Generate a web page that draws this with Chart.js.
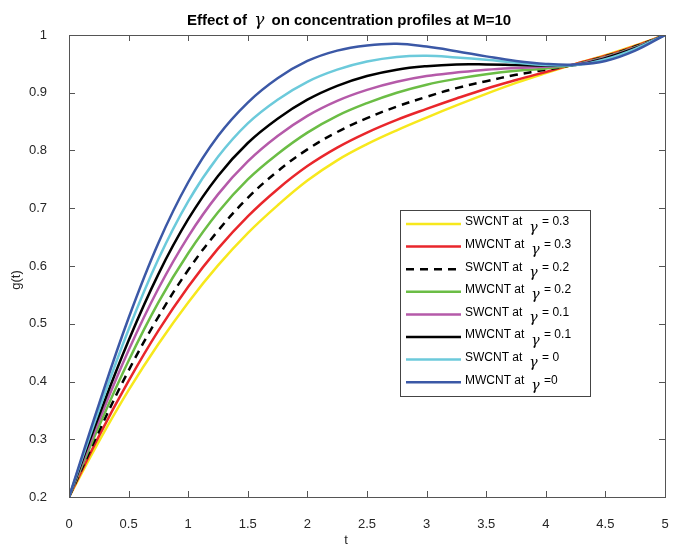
<!DOCTYPE html>
<html>
<head>
<meta charset="utf-8">
<script src="https://cdn.jsdelivr.net/npm/chart.js@4.4.1/dist/chart.umd.min.js"></script>
<style>
  html, body { margin: 0; padding: 0; background: #fff; }
  #wrap { width: 681px; height: 546px; }
</style>
</head>
<body>
<div id="wrap"><canvas id="chart" width="681" height="546"></canvas></div>
<script>
// valeurs
const tValues = [0, 0.25, 0.5, 0.75, 1, 1.25, 1.5, 1.75, 2, 2.25, 2.5, 2.75, 3, 3.25, 3.5, 3.75, 4, 4.25, 4.5, 4.75, 5];

const swcnt03 = [0.2, 0.296, 0.385, 0.465, 0.537, 0.601, 0.657, 0.705, 0.748, 0.783, 0.811, 0.835, 0.857, 0.878, 0.898, 0.917, 0.934, 0.950, 0.965, 0.982, 1];
const mwcnt03 = [0.2, 0.305, 0.401, 0.488, 0.564, 0.630, 0.686, 0.733, 0.773, 0.805, 0.831, 0.853, 0.872, 0.890, 0.907, 0.922, 0.936, 0.950, 0.964, 0.981, 1];
const swcnt02 = [0.2, 0.313, 0.419, 0.512, 0.593, 0.661, 0.718, 0.764, 0.802, 0.832, 0.856, 0.876, 0.893, 0.908, 0.920, 0.931, 0.940, 0.949, 0.963, 0.980, 1];
const mwcnt02 = [0.2, 0.322, 0.436, 0.537, 0.622, 0.693, 0.750, 0.794, 0.831, 0.860, 0.882, 0.900, 0.914, 0.924, 0.932, 0.938, 0.942, 0.949, 0.962, 0.979, 1];
const swcnt01 = [0.2, 0.331, 0.454, 0.561, 0.651, 0.724, 0.781, 0.825, 0.860, 0.886, 0.905, 0.919, 0.929, 0.935, 0.940, 0.943, 0.945, 0.949, 0.961, 0.978, 1];
const mwcnt01 = [0.2, 0.340, 0.471, 0.586, 0.681, 0.756, 0.813, 0.855, 0.888, 0.912, 0.929, 0.940, 0.946, 0.949, 0.949, 0.948, 0.947, 0.948, 0.960, 0.977, 1];
const swcnt00 = [0.2, 0.350, 0.490, 0.612, 0.712, 0.789, 0.847, 0.888, 0.919, 0.940, 0.954, 0.962, 0.964, 0.961, 0.957, 0.952, 0.948, 0.948, 0.958, 0.976, 1];
const mwcnt00 = [0.2, 0.360, 0.510, 0.640, 0.745, 0.825, 0.883, 0.925, 0.955, 0.973, 0.982, 0.985, 0.980, 0.972, 0.963, 0.955, 0.950, 0.949, 0.955, 0.973, 1];

const seriesLabels = ['SWCNT at', 'MWCNT at', 'SWCNT at', 'MWCNT at', 'SWCNT at', 'MWCNT at', 'SWCNT at', 'MWCNT at'];
const gammaLabels = [' = 0.3', ' = 0.3', ' = 0.2', ' = 0.2', ' = 0.1', ' = 0.1', ' = 0', ' =0'];
const seriesColors = ['#f7e81c', '#e9262b', '#000000', '#6bbd45', '#b55aa9', '#000000', '#6ccadb', '#3b58a6'];
const seriesDashed = [false, false, true, false, false, false, false, false];
const seriesValues = [swcnt03, mwcnt03, swcnt02, mwcnt02, swcnt01, mwcnt01, swcnt00, mwcnt00];

const xTicks = [0, 0.5, 1, 1.5, 2, 2.5, 3, 3.5, 4, 4.5, 5];
const yTicks = [0.2, 0.3, 0.4, 0.5, 0.6, 0.7, 0.8, 0.9, 1];

const FONT = '"Liberation Sans", Arial, sans-serif';
const AXIS_COLOR = '#555';

const datasets = seriesValues.map((vals, i) => ({
    label: seriesLabels[i] + ' γ' + gammaLabels[i],
    data: tValues.map((t, k) => ({ x: t, y: vals[k] })),
    borderColor: seriesColors[i],
    borderWidth: 2.5,
    borderDash: seriesDashed[i] ? [8, 6] : [],
    pointRadius: 0,
    fill: false,
    tension: 0.4,
    order: seriesValues.length - i
}));

// boîte, ticks intérieurs, titre, labels, légende
const decorPlugin = {
    id: 'decor',
    beforeDraw(chart) {
        const ctx = chart.ctx;
        ctx.save();
        ctx.fillStyle = '#fff';
        ctx.fillRect(0, 0, chart.width, chart.height);
        ctx.restore();
    },
    afterDraw(chart) {
        const ctx = chart.ctx;
        const a = chart.chartArea;
        const xs = chart.scales.x, ys = chart.scales.y;
        ctx.save();

        // cadre
        ctx.strokeStyle = AXIS_COLOR;
        ctx.lineWidth = 1;
        ctx.strokeRect(Math.round(a.left) + 0.5, Math.round(a.top) + 0.5,
            Math.round(a.right - a.left), Math.round(a.bottom - a.top));

        // ticks vers l'intérieur
        ctx.beginPath();
        xTicks.forEach(v => {
            const px = Math.round(xs.getPixelForValue(v)) + 0.5;
            ctx.moveTo(px, a.bottom); ctx.lineTo(px, a.bottom - 6);
            ctx.moveTo(px, a.top); ctx.lineTo(px, a.top + 6);
        });
        yTicks.forEach(v => {
            const py = Math.round(ys.getPixelForValue(v)) + 0.5;
            ctx.moveTo(a.left, py); ctx.lineTo(a.left + 6, py);
            ctx.moveTo(a.right, py); ctx.lineTo(a.right - 6, py);
        });
        ctx.stroke();

        // titre
        ctx.fillStyle = '#000';
        ctx.textBaseline = 'alphabetic';
        ctx.textAlign = 'left';
        let x = 187;
        const ty = 25;
        ctx.font = 'bold 15px ' + FONT;
        ctx.fillText('Effect of ', x, ty);
        x += ctx.measureText('Effect of ').width + 3;
        ctx.font = 'italic 17px "DejaVu Serif", serif';
        ctx.fillText('γ', x, ty);
        x += ctx.measureText('γ').width + 3;
        ctx.font = 'bold 15px ' + FONT;
        ctx.fillText(' on concentration profiles at M=10', x, ty);

        // titres des axes
        ctx.fillStyle = '#262626';
        ctx.font = '13px ' + FONT;
        ctx.textAlign = 'center';
        ctx.textBaseline = 'middle';
        ctx.fillText('t', 346, 540);
        ctx.save();
        ctx.translate(16, 280);
        ctx.rotate(-Math.PI / 2);
        ctx.fillText('g(t)', 0, 0);
        ctx.restore();

        // légende
        const lx = 400, ly = 210, lw = 190, lh = 186;
        ctx.fillStyle = '#fff';
        ctx.fillRect(lx, ly, lw, lh);
        ctx.strokeStyle = '#444';
        ctx.lineWidth = 1;
        ctx.strokeRect(lx + 0.5, ly + 0.5, lw, lh);
        seriesLabels.forEach((lab, i) => {
            const ry = 224 + i * 22.6;
            ctx.strokeStyle = seriesColors[i];
            ctx.lineWidth = 2.5;
            ctx.setLineDash(seriesDashed[i] ? [8, 6] : []);
            ctx.beginPath();
            ctx.moveTo(406, ry); ctx.lineTo(461, ry);
            ctx.stroke();
            ctx.setLineDash([]);

            ctx.fillStyle = '#000';
            ctx.textAlign = 'left';
            ctx.textBaseline = 'middle';
            ctx.font = '12px ' + FONT;
            let tx = 465;
            ctx.fillText(lab, tx, ry - 2);
            tx += ctx.measureText(lab).width + 7;
            ctx.font = 'italic 14px "DejaVu Serif", serif';
            ctx.fillText('γ', tx, ry + 4);
            tx += ctx.measureText('γ').width + 1;
            ctx.font = '12px ' + FONT;
            ctx.fillText(gammaLabels[i], tx, ry - 2);
        });

        ctx.restore();
    }
};

new Chart(document.getElementById('chart'), {
    type: 'line',
    data: { datasets: datasets },
    options: {
        responsive: false,
        animation: false,
        devicePixelRatio: 1,
        layout: { padding: { top: 35, right: 16, left: 0, bottom: 0 } },
        plugins: {
            legend: { display: false },
            title: { display: false },
            tooltip: { enabled: false }
        },
        scales: {
            x: {
                type: 'linear',
                min: 0,
                max: 5,
                afterFit: (s) => { s.height = 49; },
                afterBuildTicks: (s) => { s.ticks = xTicks.map(v => ({ value: v })); },
                grid: { display: false },
                border: { display: false },
                ticks: {
                    padding: 12,
                    color: '#262626',
                    font: { family: FONT, size: 13 },
                    maxRotation: 0,
                    callback: (v) => String(v)
                }
            },
            y: {
                type: 'linear',
                min: 0.2,
                max: 1,
                afterFit: (s) => { s.width = 69; },
                afterBuildTicks: (s) => { s.ticks = yTicks.map(v => ({ value: v })); },
                grid: { display: false },
                border: { display: false },
                ticks: {
                    padding: 14,
                    color: '#262626',
                    font: { family: FONT, size: 13 },
                    callback: (v) => String(Number(v.toFixed(1)))
                }
            }
        }
    },
    plugins: [decorPlugin]
});
</script>
</body>
</html>
